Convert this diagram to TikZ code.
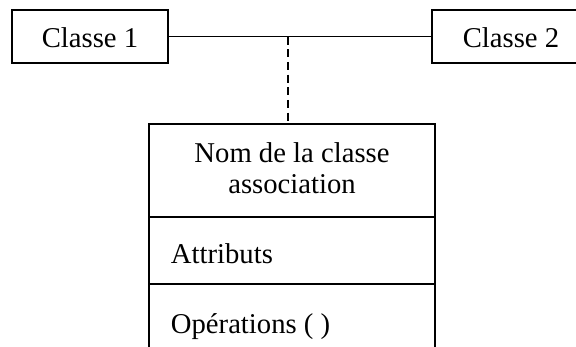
\documentclass[tikz,border=0pt]{standalone}
\usepackage{fontspec}
\setmainfont{Liberation Serif}
\begin{document}
\begin{tikzpicture}[x=0.75pt,y=-0.75pt,
  box/.style={draw, line width=1.4pt, rectangle, inner sep=0pt},
  lbl/.style={inner sep=0pt, font=\fontsize{21.5}{23}\selectfont},
  link/.style={line width=1.4pt},
  dlink/.style={line width=1.4pt, dash pattern=on 6pt off 3.5pt}]
\useasboundingbox (0,0) rectangle (576,347);
% boxes
\node[box, minimum width=117pt, minimum height=39.75pt] (c1) at (90,36.5) {};
\node[box, minimum width=118.5pt, minimum height=39.75pt] (c2) at (511,36.5) {};
\node[box, minimum width=214.5pt, minimum height=69.75pt] (nom) at (292,170.5) {};
\node[box, minimum width=214.5pt, minimum height=50.25pt] (attr) at (292,250.5) {};
\node[box, minimum width=214.5pt, minimum height=57pt] (ops) at (292,322) {};
% texts
\node[lbl, anchor=base] (t1) at (90,47) {Classe 1};
\node[lbl, anchor=base] (t2) at (511,47) {Classe 2};
\node[lbl, anchor=base] (tn1) at (292,162) {Nom de la classe};
\node[lbl, anchor=base] (tn2) at (292,193) {association};
\node[lbl, anchor=base west] (ta) at (170.7,263) {Attributs};
\node[lbl, anchor=base west] (to) at (170.7,333) {Opérations ( )};
% connectors
\draw[link] (c1.east) -- (c2.west);
\coordinate (mid) at (288,36.5);
\draw[dlink] (mid) -- (mid |- nom.north);
\end{tikzpicture}
\end{document}
